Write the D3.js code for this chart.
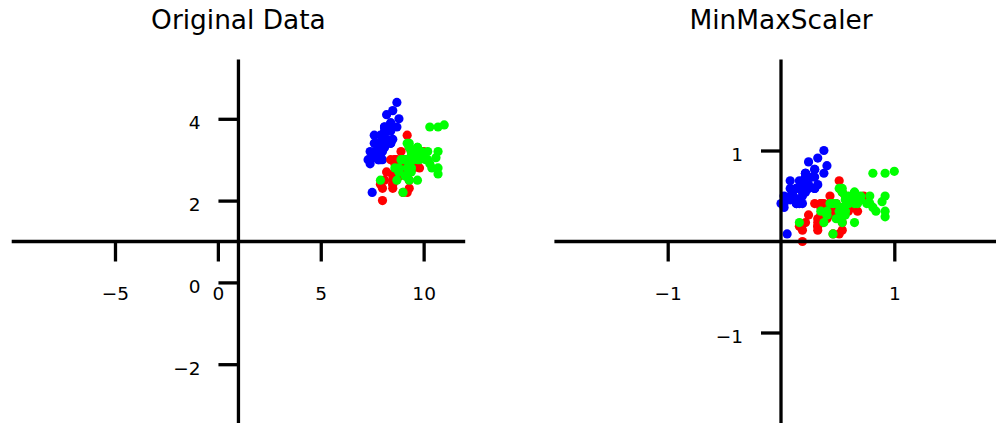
<!DOCTYPE html>
<html>
<head>
<meta charset="utf-8">
<script src="https://cdn.jsdelivr.net/npm/d3@7"></script>
<style>
  body { margin: 0; background: #ffffff; }
  svg text { font-family: "DejaVu Sans", sans-serif; fill: #000000; }
</style>
</head>
<body>
<svg id="chart" width="996" height="423"></svg>
<script>
// ---- data: three classes, two features ----
const class0X = [8.1,7.9,7.7,7.6,8.0,8.4,7.6,8.0,7.4,7.9,8.4,7.8,7.8,7.3,8.8,8.7,8.4,8.1,8.7,8.1,
                 8.4,8.1,7.6,8.1,7.8,8.0,8.0,8.2,8.2,7.7,7.8,8.4,8.2,8.5,7.9,8.0,8.5,7.9,7.4,8.1,
                 8.0,7.5,7.4,8.0,8.1,7.8,8.1,7.6,8.3,8.0];
const class0Y = [3.5,3.0,3.2,3.1,3.6,3.9,3.4,3.4,2.9,3.1,3.7,3.4,3.0,3.0,4.0,4.4,3.9,3.5,3.8,3.8,
                 3.4,3.7,3.6,3.3,3.4,3.0,3.4,3.5,3.4,3.2,3.1,3.4,4.1,4.2,3.1,3.2,3.5,3.6,3.0,3.4,
                 3.5,2.2,3.2,3.5,3.8,3.0,3.8,3.2,3.7,3.3];
const class1X = [10.0,9.4,9.9,8.5,9.5,8.7,9.3,7.9,9.6,8.2,8.0,8.9,9.0,9.1,8.6,9.7,8.6,8.8,9.2,8.6,
                 8.9,9.1,9.3,9.1,9.4,9.6,9.8,9.7,9.0,8.7,8.5,8.5,8.8,9.0,8.4,9.2,9.7,9.3,8.6,8.5,
                 8.5,9.1,8.8,8.0,8.6,8.7,8.7,9.2,8.1,8.7];
const class1Y = [3.2,3.2,3.1,2.3,2.8,2.8,3.3,2.4,2.9,2.7,2.0,3.0,2.2,2.9,2.9,3.1,3.0,2.7,2.2,2.5,
                 3.2,2.8,2.5,2.8,2.9,3.0,2.8,3.0,2.9,2.6,2.4,2.4,2.7,2.7,3.0,3.6,3.1,2.3,3.0,2.5,
                 2.6,3.0,2.6,2.3,2.7,3.0,2.9,2.9,2.5,2.8];
const class2X = [9.3,8.8,10.1,9.3,9.5,10.6,7.9,10.3,9.7,10.3,9.5,9.4,9.8,8.7,8.8,9.4,9.5,10.7,10.7,9.0,
                 9.9,8.6,10.7,9.3,9.7,10.2,9.2,9.1,9.4,10.2,10.4,11.0,9.4,9.3,9.1,10.7,9.3,9.4,9.0,9.9,
                 9.7,9.9,8.8,9.8,9.7,9.7,9.3,9.5,9.2,8.9];
const class2Y = [3.3,2.7,3.0,2.9,3.0,3.05,2.5,2.9,2.5,3.8,3.2,2.7,3.0,2.5,2.8,3.2,3.0,3.8,2.65,2.2,
                 3.2,2.8,2.8,2.7,3.3,3.2,2.8,3.0,2.8,3.0,2.8,3.85,2.8,2.8,2.6,3.2,3.4,3.1,3.0,3.1,
                 3.1,3.1,2.7,3.2,3.3,3.0,2.5,3.0,3.4,3.0];

const classColors = ["#0000ff", "#ff0000", "#00ff00"];

const panelTitles = ["Original Data", "MinMaxScaler"];

// axis limits and tick values for each panel
const originalXDomain = [-10.02, 12.02];
const originalYDomain = [-3.45, 5.45];
const originalXTicks = [-5, 0, 5, 10];
const originalYTicks = [-2, 0, 2, 4];
const scaledDomain = [-2, 2];
const scaledXTicks = [-1, 1];
const scaledYTicks = [-1, 1];

// ---- build point lists ----
const xs = [class0X, class1X, class2X];
const ys = [class0Y, class1Y, class2Y];
const rawPoints = [];
xs.forEach((cx, k) => cx.forEach((v, i) => rawPoints.push({ x: v, y: ys[k][i], c: k })));

// min-max scaling of each feature to [0, 1]
const [xMin, xMax] = d3.extent(rawPoints, d => d.x);
const [yMin, yMax] = d3.extent(rawPoints, d => d.y);
const scaledPoints = rawPoints.map(d => ({
  x: (d.x - xMin) / (xMax - xMin),
  y: (d.y - yMin) / (yMax - yMin),
  c: d.c
}));

// ---- layout ----
const svg = d3.select("#chart");
const axTop = 59.5, axHeight = 364;
const panels = [
  { left: 11.7, width: 453.5, title: panelTitles[0], points: rawPoints,
    xDomain: originalXDomain, yDomain: originalYDomain, xTicks: originalXTicks, yTicks: originalYTicks },
  { left: 554.4, width: 453.2, title: panelTitles[1], points: scaledPoints,
    xDomain: scaledDomain, yDomain: scaledDomain, xTicks: scaledXTicks, yTicks: scaledYTicks }
];

const lineW = 3.3, tickLen = 20, tickFont = 18.5, titleFont = 26.4;
const minusSign = d => d3.format("")(d).replace("-", "\u2212");

panels.forEach(p => {
  const x = d3.scaleLinear().domain(p.xDomain).range([p.left, p.left + p.width]);
  const y = d3.scaleLinear().domain(p.yDomain).range([axTop + axHeight, axTop]);
  const cx = p.left + p.width / 2;   // spines sit at the centre of the axes box
  const cy = axTop + axHeight / 2;

  const g = svg.append("g");

  // scatter points
  g.append("g").selectAll("circle")
    .data(p.points)
    .join("circle")
    .attr("cx", d => x(d.x))
    .attr("cy", d => y(d.y))
    .attr("r", 4.6)
    .attr("fill", d => classColors[d.c]);

  // bottom axis moved to the vertical centre
  const xAxis = d3.axisBottom(x).tickValues(p.xTicks).tickSize(tickLen).tickPadding(0)
    .tickFormat(minusSign);
  const xg = g.append("g").attr("transform", `translate(0,${cy})`).call(xAxis);
  xg.select(".domain").remove();
  xg.selectAll(".tick line").attr("stroke", "#000").attr("stroke-width", lineW);
  xg.selectAll(".tick text")
    .attr("y", 58).attr("dy", null)
    .attr("font-size", tickFont).attr("font-family", "DejaVu Sans").attr("fill", "#000");

  // left axis moved to the horizontal centre
  const yAxis = d3.axisLeft(y).tickValues(p.yTicks).tickSize(tickLen).tickPadding(0)
    .tickFormat(minusSign);
  const yg = g.append("g").attr("transform", `translate(${cx},0)`).call(yAxis);
  yg.select(".domain").remove();
  yg.selectAll(".tick line").attr("stroke", "#000").attr("stroke-width", lineW);
  yg.selectAll(".tick text")
    .attr("x", -38).attr("dy", null).attr("y", 10)
    .attr("text-anchor", "end")
    .attr("font-size", tickFont).attr("font-family", "DejaVu Sans").attr("fill", "#000");

  // spines
  g.append("line")
    .attr("x1", p.left).attr("x2", p.left + p.width)
    .attr("y1", cy).attr("y2", cy)
    .attr("stroke", "#000").attr("stroke-width", lineW);
  g.append("line")
    .attr("x1", cx).attr("x2", cx)
    .attr("y1", axTop).attr("y2", axTop + axHeight)
    .attr("stroke", "#000").attr("stroke-width", lineW);

  // title
  g.append("text")
    .attr("x", cx).attr("y", 29)
    .attr("text-anchor", "middle")
    .attr("font-size", titleFont)
    .text(p.title);
});
</script>
</body>
</html>
